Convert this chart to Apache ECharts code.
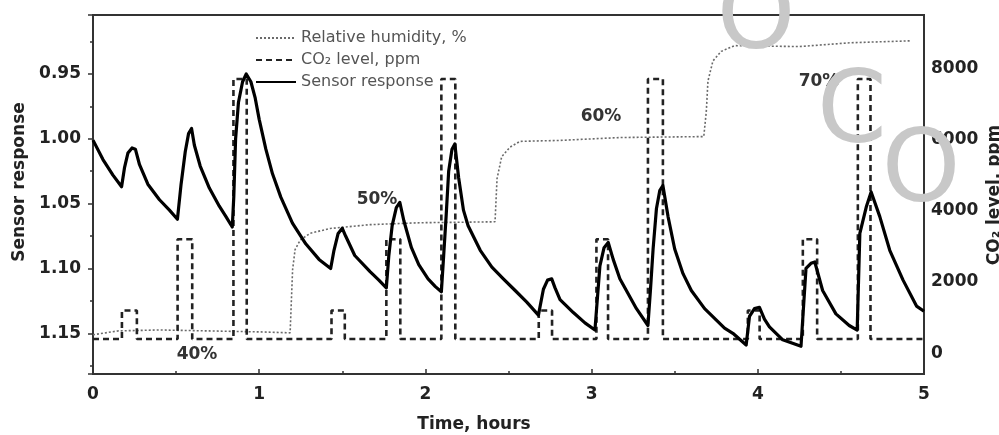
<!DOCTYPE html>
<html><head><meta charset="utf-8">
<script src="https://cdn.jsdelivr.net/npm/echarts@6/dist/echarts.min.js"></script>
<style>html,body{margin:0;padding:0;background:#fff}#c{width:999px;height:435px}</style>
</head><body><div id="c"></div>
<script>
// ---- data ----
const sensorTime  = [0.00,0.06,0.12,0.172,0.19,0.21,0.235,0.255,0.28,0.33,0.40,0.46,0.508,0.53,0.555,0.575,0.593,0.61,0.645,0.70,0.76,0.80,0.838,0.847,0.858,0.875,0.90,0.922,0.95,0.975,1.00,1.04,1.08,1.13,1.20,1.28,1.36,1.43,1.45,1.475,1.50,1.52,1.575,1.667,1.72,1.765,1.78,1.80,1.825,1.846,1.87,1.916,1.96,2.016,2.06,2.096,2.11,2.125,2.14,2.16,2.177,2.20,2.229,2.257,2.33,2.40,2.469,2.54,2.61,2.68,2.71,2.735,2.76,2.78,2.81,2.89,2.96,3.02,3.05,3.075,3.10,3.13,3.17,3.27,3.339,3.355,3.37,3.39,3.41,3.429,3.46,3.50,3.55,3.60,3.68,3.80,3.85,3.93,3.95,3.98,4.01,4.04,4.07,4.15,4.26,4.29,4.32,4.343,4.39,4.47,4.55,4.598,4.614,4.654,4.682,4.734,4.794,4.874,4.955,5.00];
const sensorValue = [1.001,1.016,1.028,1.037,1.022,1.011,1.007,1.008,1.020,1.035,1.047,1.055,1.062,1.035,1.010,0.996,0.992,1.005,1.021,1.038,1.052,1.060,1.068,1.045,1.000,0.972,0.956,0.950,0.956,0.968,0.985,1.008,1.027,1.045,1.065,1.081,1.093,1.100,1.086,1.073,1.069,1.075,1.090,1.1025,1.109,1.115,1.090,1.067,1.053,1.049,1.063,1.084,1.097,1.108,1.114,1.118,1.090,1.059,1.025,1.008,1.004,1.030,1.055,1.067,1.086,1.099,1.108,1.117,1.126,1.136,1.116,1.109,1.108,1.115,1.124,1.134,1.142,1.1475,1.098,1.084,1.080,1.093,1.108,1.131,1.144,1.115,1.085,1.054,1.040,1.036,1.060,1.085,1.104,1.117,1.131,1.146,1.150,1.159,1.137,1.131,1.130,1.139,1.145,1.155,1.160,1.100,1.096,1.095,1.117,1.135,1.144,1.1475,1.073,1.052,1.041,1.060,1.086,1.109,1.129,1.133];

const co2Time  = [0,0.174,0.174,0.264,0.264, 0.509,0.509,0.597,0.597, 0.845,0.845,0.925,0.925, 1.435,1.435,1.515,1.515, 1.765,1.765,1.849,1.849, 2.096,2.096,2.18,2.18, 2.682,2.682,2.762,2.762, 3.029,3.029,3.099,3.099, 3.339,3.339,3.429,3.429, 3.94,3.94,4.011,4.011, 4.271,4.271,4.357,4.357, 4.602,4.602,4.678,4.678, 5];
const co2Value = [400,400,1200,1200,400, 400,3200,3200,400, 400,7700,7700,400, 400,1200,1200,400, 400,3200,3200,400, 400,7700,7700,400, 400,1200,1200,400, 400,3200,3200,400, 400,7700,7700,400, 400,1200,1200,400, 400,3200,3200,400, 400,7700,7700,400, 400];

const rhTime  = [0,0.15,0.4,0.7,1.0,1.186,1.193,1.201,1.216,1.247,1.307,1.427,1.667,1.968,2.419,2.431,2.459,2.509,2.569,2.81,3.17,3.675,3.69,3.70,3.73,3.78,3.86,4.25,4.555,4.915];
const rhValue = [39.7,40.1,40.2,40.1,40.0,39.9,43.0,46.5,48.6,49.6,50.3,50.8,51.2,51.4,51.5,56.0,58.3,59.3,59.9,60.0,60.3,60.4,63.0,66.2,68.3,69.3,69.9,69.8,70.2,70.4];

const xTickLabels = ['0','1','2','3','4','5'];
const rhLevelLabels = ['40%','50%','60%','70%'];
const seriesNames = ['Relative humidity, %','CO₂ level, ppm','Sensor response'];

// ---- chart ----
const zip = (a,b) => a.map((t,i)=>[t,b[i]]);
const FONT = 'DejaVu Sans';
const tickFont = {fontFamily:FONT, fontWeight:'bold', fontSize:17, color:'#222'};
const chart = echarts.init(document.getElementById('c'), null, {renderer:'canvas'});

function txt(t, x, y, opt) {
  return Object.assign({type:'text', x:x, y:y, z:50, silent:true,
    style:Object.assign({text:t, fill:'#222', font:'bold 17px "'+FONT+'"', textAlign:'center', textVerticalAlign:'middle'}, (opt&&opt.style)||{})},
    opt&&opt.extra||{});
}
const WM = {fill:'#c8c8c8', font:'100px "'+FONT+'"'};

const option = {
  animation:false,
  backgroundColor:'#fff',
  grid:{left:93, right:75, top:15, bottom:61, show:true, borderColor:'#333', borderWidth:2, backgroundColor:'transparent'},
  legend:{
    data:seriesNames, orient:'vertical', left:250, top:25, itemWidth:40, itemHeight:12, itemGap:6,
    itemStyle:{opacity:0, borderWidth:0},
    textStyle:{fontFamily:FONT, fontSize:16, color:'#555', lineHeight:16}, selectedMode:false
  },
  xAxis:{
    type:'value', min:0, max:5, interval:1,
    axisLine:{show:true, onZero:false, lineStyle:{color:'#333', width:2}},
    axisTick:{show:true, inside:true, length:5, lineStyle:{color:'#333', width:1.5}},
    minorTick:{show:true, splitNumber:2, length:3, lineStyle:{color:'#333', width:1.5}},
    axisLabel:Object.assign({margin:12, formatter:v=>xTickLabels[Math.round(v)]}, tickFont),
    splitLine:{show:false}
  },
  yAxis:[
    {type:'value', inverse:true, min:0.9045, max:1.1814, splitNumber:5, position:'left',
     axisLine:{show:true, onZero:false, lineStyle:{color:'#333', width:2}},
     axisTick:{show:true, inside:false, length:5, lineStyle:{color:'#333', width:1.5}},
     minorTick:{show:true, splitNumber:2, length:3, lineStyle:{color:'#333', width:1.5}},
     axisLabel:Object.assign({margin:12, formatter:v=>{const k=v*20; return Math.abs(k-Math.round(k))<1e-6 ? v.toFixed(2) : '';}}, tickFont),
     splitLine:{show:false}},
    {type:'value', min:-581, max:9496, splitNumber:5, position:'right',
     axisLine:{show:false, onZero:false}, axisTick:{show:false},
     axisLabel:Object.assign({margin:7, formatter:v=>(v>=0 && Math.abs(v%2000)<1e-6) ? String(Math.round(v)) : ''}, tickFont),
     splitLine:{show:false}},
    {type:'value', min:35.6, max:73.1, show:false, splitLine:{show:false}}
  ],
  series:[
    {name:seriesNames[0], type:'line', yAxisIndex:2, data:zip(rhTime,rhValue), symbol:'none', z:2,
     lineStyle:{color:'#6a6a6a', width:1.6, type:[2,2]}, itemStyle:{color:'#6a6a6a'}},
    {name:seriesNames[1], type:'line', yAxisIndex:1, data:zip(co2Time,co2Value), symbol:'none', z:3,
     lineStyle:{color:'#222', width:2.6, type:[6,4]}, itemStyle:{color:'#222'}},
    {name:seriesNames[2], type:'line', yAxisIndex:0, data:zip(sensorTime,sensorValue), symbol:'none', z:4,
     lineStyle:{color:'#000', width:3.2, join:'round'}, itemStyle:{color:'#000'}}
  ],
  graphic:[
    txt('Sensor response', 20, 182, {extra:{rotation:Math.PI/2}}),
    txt('Time, hours', 474, 425),
    txt('CO₂ level, ppm', 995, 195, {extra:{rotation:Math.PI/2}}),
    txt(rhLevelLabels[0], 197, 355, {style:{fill:'#333'}}),
    txt(rhLevelLabels[1], 377, 200, {style:{fill:'#333'}}),
    txt(rhLevelLabels[2], 601, 117, {style:{fill:'#333'}}),
    txt(rhLevelLabels[3], 819, 82, {style:{fill:'#333'}}),
    txt('O', 756, 22, {style:WM}),
    txt('C', 852, 116, {style:WM}),
    txt('O', 921, 175, {style:WM})
  ]
};
chart.setOption(option);
</script>
</body></html>
